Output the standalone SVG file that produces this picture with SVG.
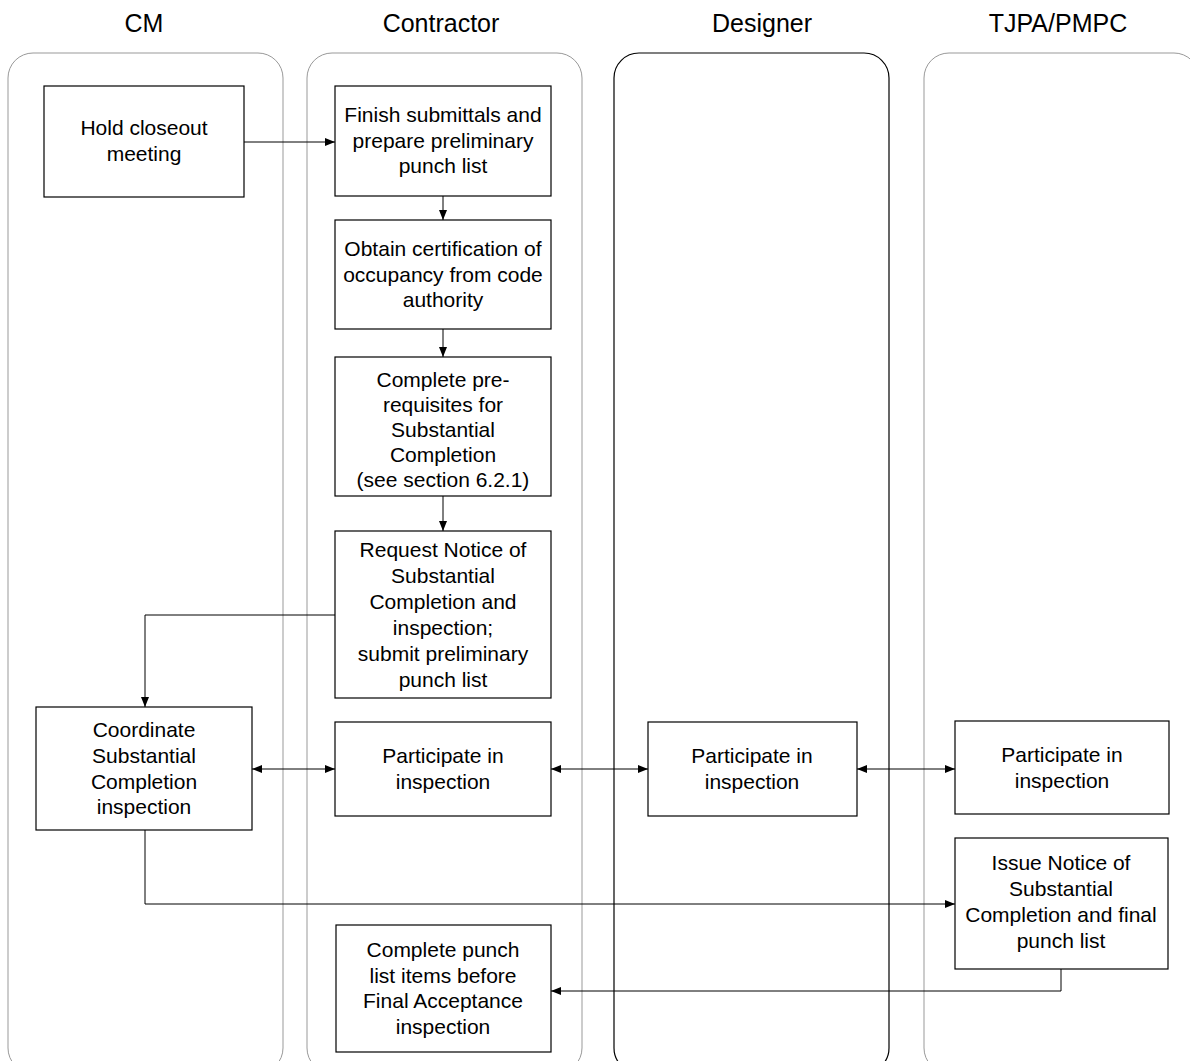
<svg xmlns="http://www.w3.org/2000/svg" width="1190" height="1061" viewBox="0 0 1190 1061">
  <style>
    .lane { fill: none; stroke: #999999; stroke-width: 1; }
    .lane-dark { fill: none; stroke: #000000; stroke-width: 1.2; }
    .hdr { font-family: "Liberation Sans", Arial, sans-serif; font-size: 25px; fill: #000; text-anchor: middle; }
    .box { fill: #ffffff; stroke: #000000; stroke-width: 1.2; }
    .lbl { font-family: "Liberation Sans", Arial, sans-serif; font-size: 21px; fill: #000; text-anchor: middle; }
    .conn { fill: none; stroke: #000000; stroke-width: 1; }
  </style>
  <defs>
    <marker id="arrow" viewBox="0 0 10 8" refX="10" refY="4" markerWidth="10" markerHeight="8" markerUnits="userSpaceOnUse" orient="auto-start-reverse">
      <path d="M0,0 L10,4 L0,8 Z" fill="#000"/>
    </marker>
  </defs>
  <rect width="1190" height="1061" fill="#ffffff"/>

  <!-- swimlanes -->
  <g id="lanes">
    <rect class="lane" x="8" y="53" width="275" height="1020" rx="25" ry="25"/>
    <rect class="lane" x="307" y="53" width="275" height="1020" rx="25" ry="25"/>
    <rect class="lane-dark" x="614" y="53" width="275" height="1020" rx="25" ry="25"/>
    <rect class="lane" x="924" y="53" width="275" height="1020" rx="25" ry="25"/>
  </g>
  <g id="headers">
    <text class="hdr" x="144" y="32">CM</text>
    <text class="hdr" x="441" y="32">Contractor</text>
    <text class="hdr" x="762" y="32">Designer</text>
    <text class="hdr" x="1058" y="32">TJPA/PMPC</text>
  </g>

  <!-- connectors -->
  <g id="connectors">
    <path class="conn" d="M244,142 H335" marker-end="url(#arrow)"/>
    <path class="conn" d="M443,196 V220" marker-end="url(#arrow)"/>
    <path class="conn" d="M443,329 V357" marker-end="url(#arrow)"/>
    <path class="conn" d="M443,496 V531" marker-end="url(#arrow)"/>
    <path class="conn" d="M335,615 H145 V707" marker-end="url(#arrow)"/>
    <path class="conn" d="M252,769 H335" marker-start="url(#arrow)" marker-end="url(#arrow)"/>
    <path class="conn" d="M551,769 H648" marker-start="url(#arrow)" marker-end="url(#arrow)"/>
    <path class="conn" d="M857,769 H955" marker-start="url(#arrow)" marker-end="url(#arrow)"/>
    <path class="conn" d="M145,830 V904 H955" marker-end="url(#arrow)"/>
    <path class="conn" d="M1061,969 V991 H551" marker-end="url(#arrow)"/>
  </g>

  <!-- process steps -->
  <g id="hold-closeout">
    <rect class="box" x="44" y="86" width="200" height="111"/>
    <text class="lbl" x="144" y="135">Hold closeout</text>
    <text class="lbl" x="144" y="161">meeting</text>
  </g>
  <g id="finish-submittals">
    <rect class="box" x="335" y="86" width="216" height="110"/>
    <text class="lbl" x="443" y="122">Finish submittals and</text>
    <text class="lbl" x="443" y="147.5">prepare preliminary</text>
    <text class="lbl" x="443" y="173">punch list</text>
  </g>
  <g id="obtain-certification">
    <rect class="box" x="335" y="220" width="216" height="109"/>
    <text class="lbl" x="443" y="256">Obtain certification of</text>
    <text class="lbl" x="443" y="281.5">occupancy from code</text>
    <text class="lbl" x="443" y="307">authority</text>
  </g>
  <g id="complete-prerequisites">
    <rect class="box" x="335" y="357" width="216" height="139"/>
    <text class="lbl" x="443" y="387">Complete pre-</text>
    <text class="lbl" x="443" y="412">requisites for</text>
    <text class="lbl" x="443" y="437">Substantial</text>
    <text class="lbl" x="443" y="462">Completion</text>
    <text class="lbl" x="443" y="487">(see section 6.2.1)</text>
  </g>
  <g id="request-notice">
    <rect class="box" x="335" y="531" width="216" height="167"/>
    <text class="lbl" x="443" y="557">Request Notice of</text>
    <text class="lbl" x="443" y="583">Substantial</text>
    <text class="lbl" x="443" y="609">Completion and</text>
    <text class="lbl" x="443" y="635">inspection;</text>
    <text class="lbl" x="443" y="661">submit preliminary</text>
    <text class="lbl" x="443" y="687">punch list</text>
  </g>
  <g id="coordinate-inspection">
    <rect class="box" x="36" y="707" width="216" height="123"/>
    <text class="lbl" x="144" y="737">Coordinate</text>
    <text class="lbl" x="144" y="763">Substantial</text>
    <text class="lbl" x="144" y="788.5">Completion</text>
    <text class="lbl" x="144" y="814">inspection</text>
  </g>
  <g id="contractor-participate">
    <rect class="box" x="335" y="722" width="216" height="94"/>
    <text class="lbl" x="443" y="763">Participate in</text>
    <text class="lbl" x="443" y="789">inspection</text>
  </g>
  <g id="designer-participate">
    <rect class="box" x="648" y="722" width="209" height="94"/>
    <text class="lbl" x="752" y="763">Participate in</text>
    <text class="lbl" x="752" y="789">inspection</text>
  </g>
  <g id="owner-participate">
    <rect class="box" x="955" y="721" width="214" height="93"/>
    <text class="lbl" x="1062" y="762">Participate in</text>
    <text class="lbl" x="1062" y="788">inspection</text>
  </g>
  <g id="issue-notice">
    <rect class="box" x="955" y="838" width="213" height="131"/>
    <text class="lbl" x="1061" y="870">Issue Notice of</text>
    <text class="lbl" x="1061" y="896">Substantial</text>
    <text class="lbl" x="1061" y="922">Completion and final</text>
    <text class="lbl" x="1061" y="948">punch list</text>
  </g>
  <g id="complete-punch-list">
    <rect class="box" x="336" y="925" width="215" height="127"/>
    <text class="lbl" x="443" y="957">Complete punch</text>
    <text class="lbl" x="443" y="982.5">list items before</text>
    <text class="lbl" x="443" y="1008">Final Acceptance</text>
    <text class="lbl" x="443" y="1033.5">inspection</text>
  </g>
</svg>
